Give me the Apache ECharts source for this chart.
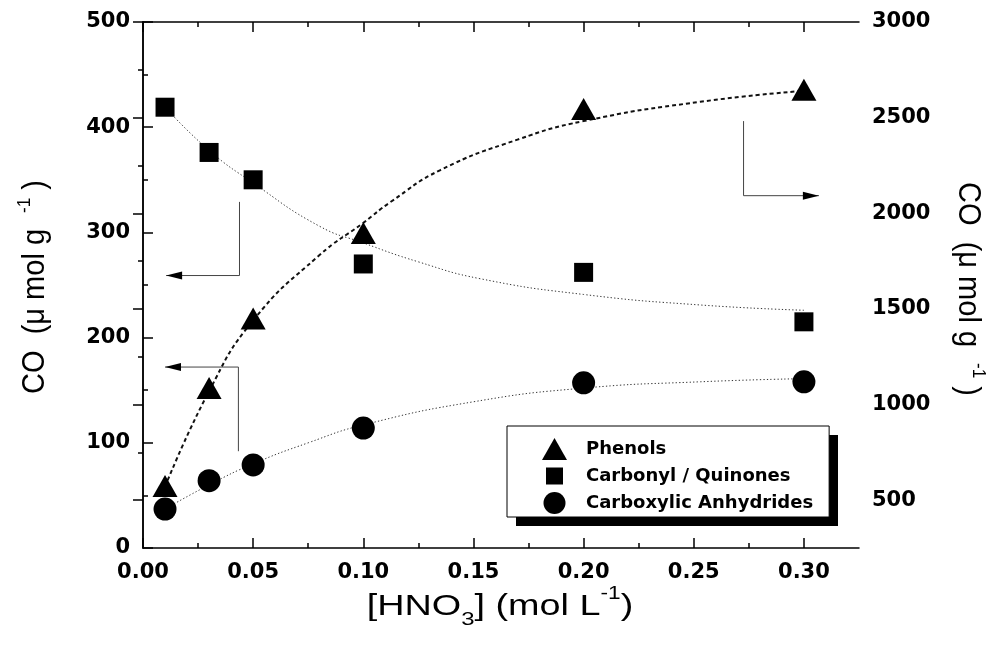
<!DOCTYPE html>
<html>
<head>
<meta charset="utf-8">
<script src="https://cdn.jsdelivr.net/npm/echarts@6/dist/echarts.min.js"></script>
<style>
  html, body { margin: 0; padding: 0; background: #fff; }
  #chart { width: 1003px; height: 661px; }
</style>
</head>
<body>
<div id="chart"></div>
<script>
// HNO3 concentration (mol/L) of the treated samples
const hno3 = [0.01, 0.03, 0.05, 0.10, 0.20, 0.30];

// CO evolved per group (µmol/g); phenols use the right-hand scale
const phenols = [574, 1086, 1450, 1897, 2545, 2646];
const carbonyl = [419, 376, 350, 270, 262, 215];
const carboxylic = [37, 64, 79, 114, 157, 158];

// Fitted trend curves (x, y pairs)
const phenolsFitX = [0.01, 0.03, 0.05, 0.08, 0.10, 0.1125, 0.135, 0.17, 0.20, 0.253, 0.30];
const phenolsFitY = [570, 1070, 1440, 1780, 1950, 2060, 2226, 2385, 2482, 2583, 2640];
const carbonylFitX = [0.01, 0.03, 0.05, 0.08, 0.10, 0.125, 0.153, 0.20, 0.253, 0.30];
const carbonylFitY = [419, 378, 347, 306, 290, 272, 256, 241, 231, 226];
const carboxylicFitX = [0.01, 0.03, 0.05, 0.075, 0.10, 0.15, 0.20, 0.253, 0.30];
const carboxylicFitY = [37, 60, 80, 100, 117, 139, 152, 158, 161];

// Pointer arrows (data units) showing which scale each curve reads on
const arrowCarbonyl = [[0.0438, 329], [0.0438, 259], [0.0105, 259]];
const arrowCarboxylic = [[0.0433, 92], [0.0433, 172], [0.0100, 172]];
const arrowPhenols = [[0.2726, 2482], [0.2726, 2092], [0.3068, 2092]];

// Tick positions
const xMajor = [0, 0.05, 0.10, 0.15, 0.20, 0.25, 0.30];
const xMinor = [0.025, 0.075, 0.125, 0.175, 0.225, 0.275];
const leftMajor = [0, 100, 200, 300, 400, 500];
const leftMinor = [50, 150, 250, 350, 450];
const rightMajor = [500, 1000, 1500, 2000, 2500, 3000];
const rightMinor = [750, 1250, 1750, 2250, 2750];

const names = ['Phenols', 'Carbonyl / Quinones', 'Carboxylic Anhydrides'];

const zip = (xs, ys) => xs.map((x, i) => [x, ys[i]]);

const tickFont = { fontFamily: 'DejaVu Sans', fontWeight: 'bold', fontSize: 21, color: '#000' };
const lineBlack = { show: true, lineStyle: { color: '#000', width: 1.5 } };

function xAxisDef(pos, ticks, len, withLine, withLabel) {
  return {
    type: 'value', position: pos, min: 0, max: 0.325,
    axisLine: withLine ? lineBlack : { show: false },
    axisTick: { show: true, inside: true, length: len, customValues: ticks, lineStyle: { color: '#000', width: 1.5 } },
    axisLabel: withLabel
      ? Object.assign({ show: true, margin: 14, customValues: ticks, formatter: v => v.toFixed(2) }, tickFont)
      : { show: false },
    splitLine: { show: false }
  };
}
function yAxisDef(pos, min, max, ticks, len, withLine, withLabel) {
  return {
    type: 'value', position: pos, min: min, max: max,
    axisLine: withLine ? lineBlack : { show: false },
    axisTick: { show: true, inside: true, length: len, customValues: ticks, lineStyle: { color: '#000', width: 1.5 } },
    axisLabel: withLabel
      ? Object.assign({ show: true, margin: 13, customValues: ticks, formatter: v => String(v) }, tickFont)
      : { show: false },
    splitLine: { show: false }
  };
}

const chart = echarts.init(document.getElementById('chart'), null, { renderer: 'canvas' });

const titleRich = {
  t: { fontFamily: 'Liberation Sans', fontSize: 29, color: '#000', lineHeight: 36 },
  s: { fontFamily: 'Liberation Sans', fontSize: 17, color: '#000', verticalAlign: 'top', lineHeight: 36 }
};
const xTitleRich = {
  t: { fontFamily: 'Liberation Sans', fontSize: 30, color: '#000', lineHeight: 44 },
  sub: { fontFamily: 'Liberation Sans', fontSize: 19, color: '#000', verticalAlign: 'bottom', lineHeight: 44 },
  sup: { fontFamily: 'Liberation Sans', fontSize: 18, color: '#000', verticalAlign: 'top', lineHeight: 44 }
};
const yTitleText = '{t|CO  (μ mol g  }{s|-1}{t| )}';

const option = {
  animation: false,
  backgroundColor: '#fff',
  grid: { left: 143, right: 144, top: 22, bottom: 113, containLabel: false, outerBoundsMode: 'none' },
  xAxis: [
    xAxisDef('bottom', xMajor, 10, true, true),
    xAxisDef('bottom', xMinor, 5, false, false),
    xAxisDef('top', xMajor, 10, true, false),
    xAxisDef('top', xMinor, 5, false, false)
  ],
  yAxis: [
    yAxisDef('left', 0, 500, leftMajor, 10, true, true),
    yAxisDef('right', 250, 3000, rightMajor, 10, true, true),
    yAxisDef('left', 0, 500, leftMinor, 5, false, false),
    yAxisDef('right', 250, 3000, rightMinor, 5, false, false)
  ],
  legend: {
    orient: 'vertical',
    left: 507, top: 426, z: 4,
    padding: [12, 16, 3, 34],
    itemGap: 5,
    itemWidth: 40, itemHeight: 22,
    selectedMode: false,
    backgroundColor: '#fff',
    borderColor: '#000', borderWidth: 1,
    textStyle: { fontFamily: 'DejaVu Sans', fontWeight: 'bold', fontSize: 18, color: '#000' },
    data: [
      { name: names[0], icon: 'path://M0 0M40 22M1 22L13.5 0L26 22Z' },
      { name: names[1], icon: 'path://M0 0M40 22M5 2.5h17v17h-17Z' },
      { name: names[2], icon: 'path://M0 0M40 22M2.5 11A11 11 0 1 1 24.5 11A11 11 0 1 1 2.5 11Z' }
    ]
  },
  graphic: [
    // solid drop shadow behind the legend box
    {
      type: 'rect', z: 3, silent: true,
      shape: { x: 516, y: 435, width: 322, height: 91 },
      style: { fill: '#000' }
    },
    {
      type: 'text', x: 35, y: 287, rotation: Math.PI / 2, scaleY: 1.1,
      style: { text: yTitleText, rich: titleRich, align: 'center', verticalAlign: 'middle', textAlign: 'center', textVerticalAlign: 'middle' }
    },
    {
      type: 'text', x: 968, y: 289, rotation: -Math.PI / 2, scaleY: 1.1,
      style: { text: yTitleText, rich: titleRich, align: 'center', verticalAlign: 'middle', textAlign: 'center', textVerticalAlign: 'middle' }
    },
    {
      type: 'text', x: 500, y: 607, scaleX: 1.26,
      style: { text: '{t|[HNO}{sub|3}{t|] (mol L}{sup|-1}{t|)}', rich: xTitleRich, align: 'center', verticalAlign: 'middle', textAlign: 'center', textVerticalAlign: 'middle' }
    }
  ],
  series: [
    // fitted trends
    {
      type: 'line', xAxisIndex: 0, yAxisIndex: 1, data: zip(phenolsFitX, phenolsFitY),
      smooth: true, showSymbol: false, symbol: 'none', silent: true, z: 2,
      lineStyle: { color: '#111', width: 2, type: [4, 3] }
    },
    {
      type: 'line', xAxisIndex: 0, yAxisIndex: 0, data: zip(carbonylFitX, carbonylFitY),
      smooth: true, showSymbol: false, symbol: 'none', silent: true, z: 2,
      lineStyle: { color: '#333', width: 1, type: [1.3, 2.2] }
    },
    {
      type: 'line', xAxisIndex: 0, yAxisIndex: 0, data: zip(carboxylicFitX, carboxylicFitY),
      smooth: true, showSymbol: false, symbol: 'none', silent: true, z: 2,
      lineStyle: { color: '#333', width: 1, type: [1.3, 2.2] }
    },
    // measured points
    {
      name: names[0], type: 'scatter', xAxisIndex: 0, yAxisIndex: 1, data: zip(hno3, phenols),
      symbol: 'triangle', symbolSize: [25, 22], itemStyle: { color: '#000', opacity: 1 }, z: 5
    },
    {
      name: names[1], type: 'scatter', xAxisIndex: 0, yAxisIndex: 0, data: zip(hno3, carbonyl),
      symbol: 'rect', symbolSize: 19, itemStyle: { color: '#000', opacity: 1 }, z: 5
    },
    {
      name: names[2], type: 'scatter', xAxisIndex: 0, yAxisIndex: 0, data: zip(hno3, carboxylic),
      symbol: 'circle', symbolSize: 23, itemStyle: { color: '#000', opacity: 1 }, z: 5
    },
    // arrow shafts
    {
      type: 'line', xAxisIndex: 0, yAxisIndex: 0, data: arrowCarbonyl, symbol: 'none', silent: true,
      lineStyle: { color: '#444', width: 1 }, z: 3
    },
    {
      type: 'line', xAxisIndex: 0, yAxisIndex: 0, data: arrowCarboxylic, symbol: 'none', silent: true,
      lineStyle: { color: '#444', width: 1 }, z: 3
    },
    {
      type: 'line', xAxisIndex: 0, yAxisIndex: 1, data: arrowPhenols, symbol: 'none', silent: true,
      lineStyle: { color: '#444', width: 1 }, z: 3
    },
    // arrow heads
    {
      type: 'scatter', xAxisIndex: 0, yAxisIndex: 0, silent: true, symbol: 'triangle', symbolSize: [8, 16],
      itemStyle: { color: '#000', opacity: 1 }, z: 4,
      data: [
        { value: arrowCarbonyl[arrowCarbonyl.length - 1], symbolRotate: 90, symbolOffset: [8, 0] },
        { value: arrowCarboxylic[arrowCarboxylic.length - 1], symbolRotate: 90, symbolOffset: [8, 0] }
      ]
    },
    {
      type: 'scatter', xAxisIndex: 0, yAxisIndex: 1, silent: true, symbol: 'triangle', symbolSize: [8, 16],
      itemStyle: { color: '#000', opacity: 1 }, z: 4,
      data: [
        { value: arrowPhenols[arrowPhenols.length - 1], symbolRotate: -90, symbolOffset: [-8, 0] }
      ]
    }
  ]
};

chart.setOption(option);
</script>
</body>
</html>
